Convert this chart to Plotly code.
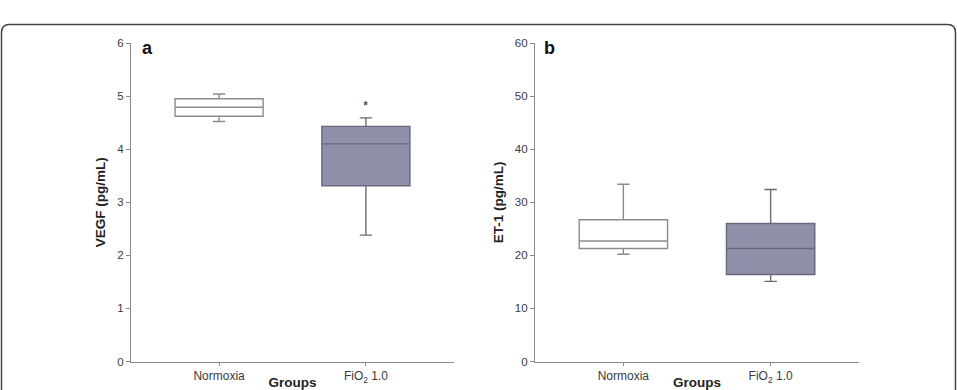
import plotly.graph_objects as go

# ---- data ----
groups = ["Normoxia", "FiO<sub>2</sub> 1.0"]

vegf_low = [4.52, 2.38]
vegf_q1 = [4.62, 3.31]
vegf_med = [4.79, 4.10]
vegf_q3 = [4.95, 4.43]
vegf_high = [5.04, 4.59]
vegf_star = [None, 4.82]

et1_low = [20.2, 15.1]
et1_q1 = [21.3, 16.4]
et1_med = [22.7, 21.3]
et1_q3 = [26.7, 26.0]
et1_high = [33.4, 32.4]

box_fill = ["#ffffff", "#8f90aa"]
box_line = ["#8c8c8c", "#676a7e"]

W, H = 957, 390
FONT = "Liberation Sans, Arial, sans-serif"

def px(x):
    return x / W

def py(y):
    return 1 - y / H

fig = go.Figure()

panels = [
    ("x", "y", vegf_low, vegf_q1, vegf_med, vegf_q3, vegf_high),
    ("x2", "y2", et1_low, et1_q1, et1_med, et1_q3, et1_high),
]
for xa, ya, lo, q1, med, q3, hi in panels:
    for i, g in enumerate(groups):
        fig.add_trace(go.Box(
            x=[g], q1=[q1[i]], median=[med[i]], q3=[q3[i]],
            lowerfence=[lo[i]], upperfence=[hi[i]],
            width=0.6, whiskerwidth=0.14,
            fillcolor=box_fill[i],
            line=dict(color=box_line[i], width=1.4),
            boxpoints=False, showlegend=False, hoverinfo="skip",
            xaxis=xa, yaxis=ya,
        ))

axis_common = dict(
    showline=True, linecolor="#8a8a8a", linewidth=1.3,
    ticks="outside", ticklen=4, tickcolor="#8a8a8a", tickwidth=1,
    showgrid=False, zeroline=False, automargin=False,
    tickfont=dict(family=FONT, size=11.5, color="#3a3a3a"),
)
xcommon = dict(axis_common, type="category", range=[-0.6, 1.6],
               categoryorder="array", categoryarray=groups,
               tickfont=dict(family=FONT, size=12, color="#3a3a3a"),
               ticklen=3,
               title=dict(text="<b>Groups</b>", standoff=1,
                          font=dict(family=FONT, size=13.5, color="#222")))

ydomain = [py(361.5), py(43)]

fig.update_layout(
    width=W, height=H,
    margin=dict(l=0, r=0, t=0, b=0),
    template="none",
    paper_bgcolor="white", plot_bgcolor="rgba(0,0,0,0)",
    xaxis=dict(xcommon, domain=[px(131), px(454)], anchor="y"),
    xaxis2=dict(xcommon, domain=[px(535), px(859)], anchor="y2"),
    yaxis=dict(axis_common, domain=ydomain, anchor="x", range=[0, 6],
               tickvals=[0, 1, 2, 3, 4, 5, 6],
               title=dict(text="<b>VEGF (pg/mL)</b>", standoff=8,
                          font=dict(family=FONT, size=13.5, color="#222"))),
    yaxis2=dict(axis_common, domain=ydomain, anchor="x2", range=[0, 60],
                tickvals=[0, 10, 20, 30, 40, 50, 60],
                title=dict(text="<b>ET-1 (pg/mL)</b>", standoff=8,
                           font=dict(family=FONT, size=13.5, color="#222"))),
)

# significance marker
for i, g in enumerate(groups):
    if vegf_star[i] is not None:
        fig.add_annotation(x=g, y=vegf_star[i], xref="x", yref="y", text="*",
                           showarrow=False, font=dict(family=FONT, size=13, color="#222"))

# panel letters
fig.add_annotation(x=px(140), y=py(48), xref="paper", yref="paper", text="<b>a</b>",
                   showarrow=False, xanchor="left", yanchor="middle",
                   font=dict(family=FONT, size=18, color="#111"))
fig.add_annotation(x=px(542), y=py(48), xref="paper", yref="paper", text="<b>b</b>",
                   showarrow=False, xanchor="left", yanchor="middle",
                   font=dict(family=FONT, size=18, color="#111"))

# rounded frame
x0, x1, yt, yb, r = px(1.5), px(955.5), py(24.5), 0.0, 8
rx, ry = r / W, r / H
path = (f"M {x0},{yb} L {x0},{yt-ry} Q {x0},{yt} {x0+rx},{yt} "
        f"L {x1-rx},{yt} Q {x1},{yt} {x1},{yt-ry} L {x1},{yb}")
fig.add_shape(type="path", path=path, xref="paper", yref="paper",
              line=dict(color="#444444", width=1.5))

fig.write_html("out.html")
